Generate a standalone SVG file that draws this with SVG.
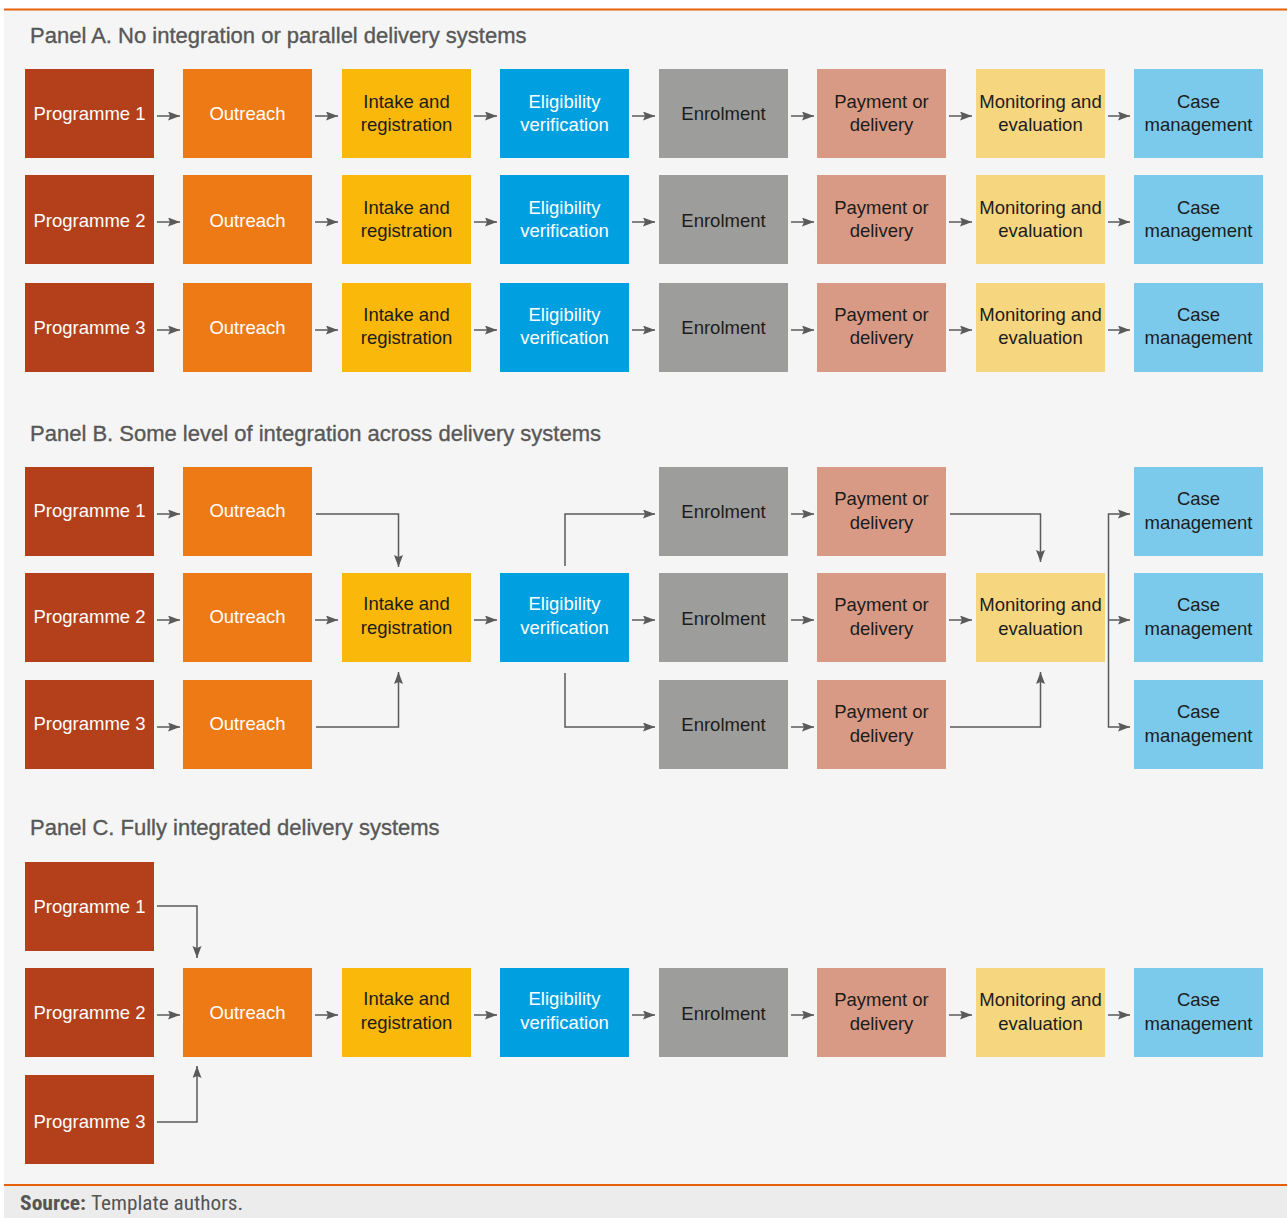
<svg xmlns="http://www.w3.org/2000/svg" width="1287" height="1218" viewBox="0 0 1287 1218">
  <style>
    .title { font-family: "Liberation Sans", Arial, sans-serif; font-size: 22px; fill: #585858; stroke: #585858; stroke-width: 0.35; }
    .lbl { font-family: "Liberation Sans", Arial, sans-serif; font-size: 18.5px; text-anchor: middle; }
    .lt { fill: #ffffff; }
    .dk { fill: #1c1c1c; }
    .prog { fill: #b3401a; }
    .out { fill: #ee7a16; }
    .intake { fill: #f9b80a; }
    .elig { fill: #00a0e0; }
    .enrol { fill: #9d9d9b; }
    .pay { fill: #d89a85; }
    .mon { fill: #f7d680; }
    .case { fill: #7ccaeb; }
    .conn { fill: none; stroke: #5a5a5a; stroke-width: 1.5; }
    .src { font-family: "Liberation Sans Narrow", "Roboto Condensed", "Liberation Sans", sans-serif; font-size: 20px; fill: #555555; }
  </style>
  <defs>
    <marker id="arr" markerUnits="userSpaceOnUse" markerWidth="14" markerHeight="12" refX="12" refY="4.5" orient="auto">
      <path d="M0,0 L12,4.5 L0,9 L2,4.5 z" fill="#5a5a5a"/>
    </marker>
    <marker id="arrS" markerUnits="userSpaceOnUse" markerWidth="14" markerHeight="12" refX="0" refY="4.5" orient="auto">
      <path d="M12,0 L0,4.5 L12,9 L10,4.5 z" fill="#5a5a5a"/>
    </marker>
  </defs>

  <!-- page background and frame lines -->
  <rect x="0" y="0" width="1287" height="1218" fill="#ffffff"/>
  <rect x="4" y="10" width="1283" height="1175" fill="#f5f5f5"/>
  <rect x="4" y="1186" width="1283" height="32" fill="#ececec"/>
  <line x1="4" y1="9.5" x2="1287" y2="9.5" stroke="#e8600a" stroke-width="2"/>
  <line x1="4" y1="1185" x2="1287" y2="1185" stroke="#e8600a" stroke-width="2"/>

  <!-- panel headings -->
  <text class="title" x="30" y="43">Panel A. No integration or parallel delivery systems</text>
  <text class="title" x="30" y="441">Panel B. Some level of integration across delivery systems</text>
  <text class="title" x="30" y="835">Panel C. Fully integrated delivery systems</text>

  <!-- ===== Panel A ===== -->
  <g id="a-prog1"><rect class="prog" x="25" y="69" width="129" height="89"/><text class="lbl lt" x="89.5" y="120">Programme 1</text></g>
  <g id="a-out1"><rect class="out" x="183" y="69" width="129" height="89"/><text class="lbl lt" x="247.5" y="120">Outreach</text></g>
  <g id="a-intake1"><rect class="intake" x="342" y="69" width="129" height="89"/><text class="lbl dk" x="406.5" y="108">Intake and</text><text class="lbl dk" x="406.5" y="131">registration</text></g>
  <g id="a-elig1"><rect class="elig" x="500" y="69" width="129" height="89"/><text class="lbl lt" x="564.5" y="108">Eligibility</text><text class="lbl lt" x="564.5" y="131">verification</text></g>
  <g id="a-enrol1"><rect class="enrol" x="659" y="69" width="129" height="89"/><text class="lbl dk" x="723.5" y="120">Enrolment</text></g>
  <g id="a-pay1"><rect class="pay" x="817" y="69" width="129" height="89"/><text class="lbl dk" x="881.5" y="108">Payment or</text><text class="lbl dk" x="881.5" y="131">delivery</text></g>
  <g id="a-mon1"><rect class="mon" x="976" y="69" width="129" height="89"/><text class="lbl dk" x="1040.5" y="108">Monitoring and</text><text class="lbl dk" x="1040.5" y="131">evaluation</text></g>
  <g id="a-case1"><rect class="case" x="1134" y="69" width="129" height="89"/><text class="lbl dk" x="1198.5" y="108">Case</text><text class="lbl dk" x="1198.5" y="131">management</text></g>

  <g id="a-prog2"><rect class="prog" x="25" y="175" width="129" height="89"/><text class="lbl lt" x="89.5" y="227">Programme 2</text></g>
  <g id="a-out2"><rect class="out" x="183" y="175" width="129" height="89"/><text class="lbl lt" x="247.5" y="227">Outreach</text></g>
  <g id="a-intake2"><rect class="intake" x="342" y="175" width="129" height="89"/><text class="lbl dk" x="406.5" y="214">Intake and</text><text class="lbl dk" x="406.5" y="237">registration</text></g>
  <g id="a-elig2"><rect class="elig" x="500" y="175" width="129" height="89"/><text class="lbl lt" x="564.5" y="214">Eligibility</text><text class="lbl lt" x="564.5" y="237">verification</text></g>
  <g id="a-enrol2"><rect class="enrol" x="659" y="175" width="129" height="89"/><text class="lbl dk" x="723.5" y="227">Enrolment</text></g>
  <g id="a-pay2"><rect class="pay" x="817" y="175" width="129" height="89"/><text class="lbl dk" x="881.5" y="214">Payment or</text><text class="lbl dk" x="881.5" y="237">delivery</text></g>
  <g id="a-mon2"><rect class="mon" x="976" y="175" width="129" height="89"/><text class="lbl dk" x="1040.5" y="214">Monitoring and</text><text class="lbl dk" x="1040.5" y="237">evaluation</text></g>
  <g id="a-case2"><rect class="case" x="1134" y="175" width="129" height="89"/><text class="lbl dk" x="1198.5" y="214">Case</text><text class="lbl dk" x="1198.5" y="237">management</text></g>

  <g id="a-prog3"><rect class="prog" x="25" y="283" width="129" height="89"/><text class="lbl lt" x="89.5" y="334">Programme 3</text></g>
  <g id="a-out3"><rect class="out" x="183" y="283" width="129" height="89"/><text class="lbl lt" x="247.5" y="334">Outreach</text></g>
  <g id="a-intake3"><rect class="intake" x="342" y="283" width="129" height="89"/><text class="lbl dk" x="406.5" y="321">Intake and</text><text class="lbl dk" x="406.5" y="344">registration</text></g>
  <g id="a-elig3"><rect class="elig" x="500" y="283" width="129" height="89"/><text class="lbl lt" x="564.5" y="321">Eligibility</text><text class="lbl lt" x="564.5" y="344">verification</text></g>
  <g id="a-enrol3"><rect class="enrol" x="659" y="283" width="129" height="89"/><text class="lbl dk" x="723.5" y="334">Enrolment</text></g>
  <g id="a-pay3"><rect class="pay" x="817" y="283" width="129" height="89"/><text class="lbl dk" x="881.5" y="321">Payment or</text><text class="lbl dk" x="881.5" y="344">delivery</text></g>
  <g id="a-mon3"><rect class="mon" x="976" y="283" width="129" height="89"/><text class="lbl dk" x="1040.5" y="321">Monitoring and</text><text class="lbl dk" x="1040.5" y="344">evaluation</text></g>
  <g id="a-case3"><rect class="case" x="1134" y="283" width="129" height="89"/><text class="lbl dk" x="1198.5" y="321">Case</text><text class="lbl dk" x="1198.5" y="344">management</text></g>

  <!-- ===== Panel B ===== -->
  <g id="b-prog1"><rect class="prog" x="25" y="467" width="129" height="89"/><text class="lbl lt" x="89.5" y="517">Programme 1</text></g>
  <g id="b-out1"><rect class="out" x="183" y="467" width="129" height="89"/><text class="lbl lt" x="247.5" y="517">Outreach</text></g>
  <g id="b-enrol1"><rect class="enrol" x="659" y="467" width="129" height="89"/><text class="lbl dk" x="723.5" y="518">Enrolment</text></g>
  <g id="b-pay1"><rect class="pay" x="817" y="467" width="129" height="89"/><text class="lbl dk" x="881.5" y="505">Payment or</text><text class="lbl dk" x="881.5" y="529">delivery</text></g>
  <g id="b-case1"><rect class="case" x="1134" y="467" width="129" height="89"/><text class="lbl dk" x="1198.5" y="505">Case</text><text class="lbl dk" x="1198.5" y="529">management</text></g>

  <g id="b-prog2"><rect class="prog" x="25" y="573" width="129" height="89"/><text class="lbl lt" x="89.5" y="623">Programme 2</text></g>
  <g id="b-out2"><rect class="out" x="183" y="573" width="129" height="89"/><text class="lbl lt" x="247.5" y="623">Outreach</text></g>
  <g id="b-intake"><rect class="intake" x="342" y="573" width="129" height="89"/><text class="lbl dk" x="406.5" y="610">Intake and</text><text class="lbl dk" x="406.5" y="634">registration</text></g>
  <g id="b-elig"><rect class="elig" x="500" y="573" width="129" height="89"/><text class="lbl lt" x="564.5" y="610">Eligibility</text><text class="lbl lt" x="564.5" y="634">verification</text></g>
  <g id="b-enrol2"><rect class="enrol" x="659" y="573" width="129" height="89"/><text class="lbl dk" x="723.5" y="625">Enrolment</text></g>
  <g id="b-pay2"><rect class="pay" x="817" y="573" width="129" height="89"/><text class="lbl dk" x="881.5" y="611">Payment or</text><text class="lbl dk" x="881.5" y="635">delivery</text></g>
  <g id="b-mon"><rect class="mon" x="976" y="573" width="129" height="89"/><text class="lbl dk" x="1040.5" y="611">Monitoring and</text><text class="lbl dk" x="1040.5" y="635">evaluation</text></g>
  <g id="b-case2"><rect class="case" x="1134" y="573" width="129" height="89"/><text class="lbl dk" x="1198.5" y="611">Case</text><text class="lbl dk" x="1198.5" y="635">management</text></g>

  <g id="b-prog3"><rect class="prog" x="25" y="680" width="129" height="89"/><text class="lbl lt" x="89.5" y="730">Programme 3</text></g>
  <g id="b-out3"><rect class="out" x="183" y="680" width="129" height="89"/><text class="lbl lt" x="247.5" y="730">Outreach</text></g>
  <g id="b-enrol3"><rect class="enrol" x="659" y="680" width="129" height="89"/><text class="lbl dk" x="723.5" y="731">Enrolment</text></g>
  <g id="b-pay3"><rect class="pay" x="817" y="680" width="129" height="89"/><text class="lbl dk" x="881.5" y="718">Payment or</text><text class="lbl dk" x="881.5" y="742">delivery</text></g>
  <g id="b-case3"><rect class="case" x="1134" y="680" width="129" height="89"/><text class="lbl dk" x="1198.5" y="718">Case</text><text class="lbl dk" x="1198.5" y="742">management</text></g>

  <!-- ===== Panel C ===== -->
  <g id="c-prog1"><rect class="prog" x="25" y="862" width="129" height="89"/><text class="lbl lt" x="89.5" y="913">Programme 1</text></g>
  <g id="c-prog2"><rect class="prog" x="25" y="968" width="129" height="89"/><text class="lbl lt" x="89.5" y="1019">Programme 2</text></g>
  <g id="c-prog3"><rect class="prog" x="25" y="1075" width="129" height="89"/><text class="lbl lt" x="89.5" y="1128">Programme 3</text></g>
  <g id="c-out"><rect class="out" x="183" y="968" width="129" height="89"/><text class="lbl lt" x="247.5" y="1019">Outreach</text></g>
  <g id="c-intake"><rect class="intake" x="342" y="968" width="129" height="89"/><text class="lbl dk" x="406.5" y="1005">Intake and</text><text class="lbl dk" x="406.5" y="1029">registration</text></g>
  <g id="c-elig"><rect class="elig" x="500" y="968" width="129" height="89"/><text class="lbl lt" x="564.5" y="1005">Eligibility</text><text class="lbl lt" x="564.5" y="1029">verification</text></g>
  <g id="c-enrol"><rect class="enrol" x="659" y="968" width="129" height="89"/><text class="lbl dk" x="723.5" y="1020">Enrolment</text></g>
  <g id="c-pay"><rect class="pay" x="817" y="968" width="129" height="89"/><text class="lbl dk" x="881.5" y="1006">Payment or</text><text class="lbl dk" x="881.5" y="1030">delivery</text></g>
  <g id="c-mon"><rect class="mon" x="976" y="968" width="129" height="89"/><text class="lbl dk" x="1040.5" y="1006">Monitoring and</text><text class="lbl dk" x="1040.5" y="1030">evaluation</text></g>
  <g id="c-case"><rect class="case" x="1134" y="968" width="129" height="89"/><text class="lbl dk" x="1198.5" y="1006">Case</text><text class="lbl dk" x="1198.5" y="1030">management</text></g>

  <!-- connectors -->
  <g id="connectors" class="conn" marker-end="url(#arr)">
    <!-- Panel A: three parallel chains -->
    <path d="M157,116 H180"/><path d="M315,116 H338"/><path d="M474,116 H497"/><path d="M632,116 H655"/>
    <path d="M791,116 H814"/><path d="M949,116 H972"/><path d="M1108,116 H1130"/>
    <path d="M157,222 H180"/><path d="M315,222 H338"/><path d="M474,222 H497"/><path d="M632,222 H655"/>
    <path d="M791,222 H814"/><path d="M949,222 H972"/><path d="M1108,222 H1130"/>
    <path d="M157,330 H180"/><path d="M315,330 H338"/><path d="M474,330 H497"/><path d="M632,330 H655"/>
    <path d="M791,330 H814"/><path d="M949,330 H972"/><path d="M1108,330 H1130"/>

    <!-- Panel B -->
    <path d="M157,514 H180"/>
    <path d="M157,620 H180"/>
    <path d="M157,727 H180"/>
    <path d="M316,514 H398.5 V567"/>
    <path d="M316,727 H398.5 V672"/>
    <path d="M315,620 H338"/>
    <path d="M474,620 H497"/>
    <path d="M565,566 V514 H655"/>
    <path d="M565,673 V727 H655"/>
    <path d="M632,620 H655"/>
    <path d="M791,514 H814"/>
    <path d="M791,620 H814"/>
    <path d="M791,727 H814"/>
    <path d="M950,514 H1040.5 V562"/>
    <path d="M950,727 H1040.5 V672"/>
    <path d="M949,620 H972"/>
    <path d="M1108,620 H1130"/>
    <path d="M1130,514 H1108.5 V727 H1130" marker-start="url(#arrS)"/>

    <!-- Panel C -->
    <path d="M157,906 H197 V958"/>
    <path d="M157,1122 H197 V1066"/>
    <path d="M157,1015 H180"/>
    <path d="M315,1015 H338"/><path d="M474,1015 H497"/><path d="M632,1015 H655"/>
    <path d="M791,1015 H814"/><path d="M949,1015 H972"/><path d="M1108,1015 H1130"/>
  </g>

  <!-- source note -->
  <text class="src" y="1210"><tspan x="20" font-weight="bold" textLength="66" lengthAdjust="spacingAndGlyphs">Source:</tspan><tspan x="91" textLength="152" lengthAdjust="spacingAndGlyphs">Template authors.</tspan></text>
</svg>
